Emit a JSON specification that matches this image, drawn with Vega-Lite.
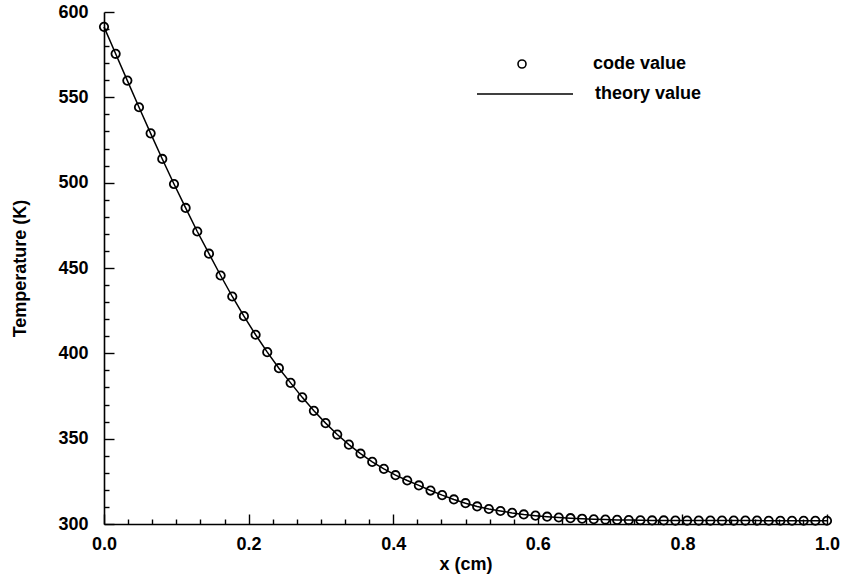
{
  "$schema": "https://vega.github.io/schema/vega-lite/v6.json",
  "width": 723,
  "height": 512,
  "autosize": {"type": "none"},
  "padding": {"left": 104, "top": 12, "right": 16, "bottom": 56},
  "background": "white",
  "config": {
    "view": {"stroke": null},
    "font": "Liberation Sans",
    "axis": {
      "grid": false,
      "domainColor": "black",
      "domainWidth": 1.6,
      "tickColor": "black",
      "tickWidth": 1.4,
      "labelColor": "black",
      "labelFont": "Liberation Sans",
      "labelFontSize": 18,
      "labelFontWeight": "bold",
      "labelFlush": false,
      "labelOverlap": false,
      "titleColor": "black",
      "titleFont": "Liberation Sans",
      "titleFontSize": 18,
      "titleFontWeight": "bold"
    },
    "legend": {
      "labelFont": "Liberation Sans",
      "labelFontSize": 18,
      "labelFontWeight": "bold",
      "labelColor": "black",
      "padding": 0
    }
  },
  "data": {
    "values": [
      {"x": 0.0, "code": 591.3, "theory": 591.3},
      {"x": 0.0161, "code": 575.5, "theory": 575.5},
      {"x": 0.0323, "code": 559.8, "theory": 559.8},
      {"x": 0.0484, "code": 544.2, "theory": 544.2},
      {"x": 0.0645, "code": 528.9, "theory": 528.9},
      {"x": 0.0806, "code": 513.9, "theory": 513.9},
      {"x": 0.0968, "code": 499.2, "theory": 499.2},
      {"x": 0.1129, "code": 485.2, "theory": 485.2},
      {"x": 0.129, "code": 471.4, "theory": 471.4},
      {"x": 0.1452, "code": 458.4, "theory": 458.4},
      {"x": 0.1613, "code": 445.6, "theory": 445.6},
      {"x": 0.1774, "code": 433.3, "theory": 433.3},
      {"x": 0.1935, "code": 421.8, "theory": 421.8},
      {"x": 0.2097, "code": 410.9, "theory": 410.9},
      {"x": 0.2258, "code": 400.7, "theory": 400.7},
      {"x": 0.2419, "code": 391.3, "theory": 391.3},
      {"x": 0.2581, "code": 382.7, "theory": 382.7},
      {"x": 0.2742, "code": 374.2, "theory": 374.2},
      {"x": 0.2903, "code": 366.3, "theory": 366.3},
      {"x": 0.3065, "code": 359.1, "theory": 359.1},
      {"x": 0.3226, "code": 352.4, "theory": 352.4},
      {"x": 0.3387, "code": 346.5, "theory": 346.5},
      {"x": 0.3548, "code": 341.2, "theory": 341.2},
      {"x": 0.371, "code": 336.4, "theory": 336.4},
      {"x": 0.3871, "code": 332.3, "theory": 332.3},
      {"x": 0.4032, "code": 328.6, "theory": 328.6},
      {"x": 0.4194, "code": 325.5, "theory": 325.5},
      {"x": 0.4355, "code": 322.6, "theory": 322.6},
      {"x": 0.4516, "code": 319.6, "theory": 319.6},
      {"x": 0.4677, "code": 316.9, "theory": 316.9},
      {"x": 0.4839, "code": 314.4, "theory": 314.4},
      {"x": 0.5, "code": 312.2, "theory": 312.2},
      {"x": 0.5161, "code": 310.3, "theory": 310.3},
      {"x": 0.5323, "code": 308.8, "theory": 308.8},
      {"x": 0.5484, "code": 307.6, "theory": 307.6},
      {"x": 0.5645, "code": 306.5, "theory": 306.5},
      {"x": 0.5806, "code": 305.6, "theory": 305.6},
      {"x": 0.5968, "code": 304.9, "theory": 304.9},
      {"x": 0.6129, "code": 304.3, "theory": 304.3},
      {"x": 0.629, "code": 303.8, "theory": 303.8},
      {"x": 0.6452, "code": 303.4, "theory": 303.4},
      {"x": 0.6613, "code": 303.1, "theory": 303.1},
      {"x": 0.6774, "code": 302.8, "theory": 302.8},
      {"x": 0.6935, "code": 302.6, "theory": 302.6},
      {"x": 0.7097, "code": 302.4, "theory": 302.4},
      {"x": 0.7258, "code": 302.3, "theory": 302.3},
      {"x": 0.7419, "code": 302.2, "theory": 302.2},
      {"x": 0.7581, "code": 302.1, "theory": 302.1},
      {"x": 0.7742, "code": 302.1, "theory": 302.1},
      {"x": 0.7903, "code": 302.0, "theory": 302.0},
      {"x": 0.8065, "code": 302.0, "theory": 302.0},
      {"x": 0.8226, "code": 302.0, "theory": 302.0},
      {"x": 0.8387, "code": 302.0, "theory": 302.0},
      {"x": 0.8548, "code": 302.0, "theory": 302.0},
      {"x": 0.871, "code": 302.0, "theory": 302.0},
      {"x": 0.8871, "code": 302.0, "theory": 302.0},
      {"x": 0.9032, "code": 302.0, "theory": 302.0},
      {"x": 0.9194, "code": 301.9, "theory": 301.9},
      {"x": 0.9355, "code": 301.9, "theory": 301.9},
      {"x": 0.9516, "code": 301.9, "theory": 301.9},
      {"x": 0.9677, "code": 301.9, "theory": 301.9},
      {"x": 0.9839, "code": 301.9, "theory": 301.9},
      {"x": 1.0, "code": 301.9, "theory": 301.9}
    ]
  },
  "layer": [
    {
      "mark": {"type": "line", "strokeWidth": 1.5},
      "encoding": {
        "x": {
          "field": "x",
          "type": "quantitative",
          "scale": {"domain": [0, 1], "nice": false, "zero": false},
          "axis": {
            "orient": "bottom",
            "values": [0, 0.2, 0.4, 0.6, 0.8, 1.0],
            "format": ".1f",
            "tickSize": -10,
            "labelPadding": 21,
            "title": "x (cm)",
            "titlePadding": 2
          }
        },
        "y": {
          "field": "theory",
          "type": "quantitative",
          "scale": {"domain": [300, 600], "nice": false, "zero": false},
          "axis": {
            "orient": "left",
            "values": [300, 350, 400, 450, 500, 550, 600],
            "tickSize": -10,
            "labelPadding": 26,
            "title": "Temperature (K)",
            "titlePadding": 28
          }
        },
        "color": {
          "datum": "theory value",
          "type": "nominal",
          "scale": {"range": ["black"]},
          "legend": {
            "title": null,
            "orient": "none",
            "legendX": 372,
            "legendY": 33,
            "symbolType": "stroke",
            "symbolSize": 9216,
            "symbolStrokeWidth": 1.5,
            "symbolStrokeColor": "black",
            "labelOffset": 21
          }
        }
      }
    },
    {
      "mark": {"type": "point", "shape": "circle", "filled": false, "stroke": "black", "strokeWidth": 1.8, "size": 70, "opacity": 1},
      "encoding": {
        "x": {
          "field": "x",
          "type": "quantitative",
          "scale": {"domain": [0, 1], "nice": false, "zero": false},
          "axis": {
            "orient": "bottom",
            "values": [0.0333, 0.0667, 0.1, 0.1333, 0.1667, 0.2333, 0.2667, 0.3, 0.3333, 0.3667, 0.4333, 0.4667, 0.5, 0.5333, 0.5667, 0.6333, 0.6667, 0.7, 0.7333, 0.7667, 0.8333, 0.8667, 0.9, 0.9333, 0.9667],
            "tickSize": -5,
            "labels": false,
            "domain": false,
            "title": null
          }
        },
        "y": {
          "field": "code",
          "type": "quantitative",
          "scale": {"domain": [300, 600], "nice": false, "zero": false},
          "axis": {
            "orient": "left",
            "values": [310, 320, 330, 340, 360, 370, 380, 390, 410, 420, 430, 440, 460, 470, 480, 490, 510, 520, 530, 540, 560, 570, 580, 590],
            "tickSize": -5,
            "labels": false,
            "domain": false,
            "title": null
          }
        },
        "shape": {
          "datum": "code value",
          "type": "nominal",
          "scale": {"range": ["circle"]},
          "legend": {
            "title": null,
            "orient": "none",
            "legendX": 409,
            "legendY": 43,
            "symbolSize": 64,
            "symbolStrokeWidth": 1.6,
            "symbolStrokeColor": "black",
            "symbolFillColor": "transparent",
            "labelOffset": 62
          }
        }
      }
    }
  ],
  "resolve": {"axis": {"x": "independent", "y": "independent"}}
}
